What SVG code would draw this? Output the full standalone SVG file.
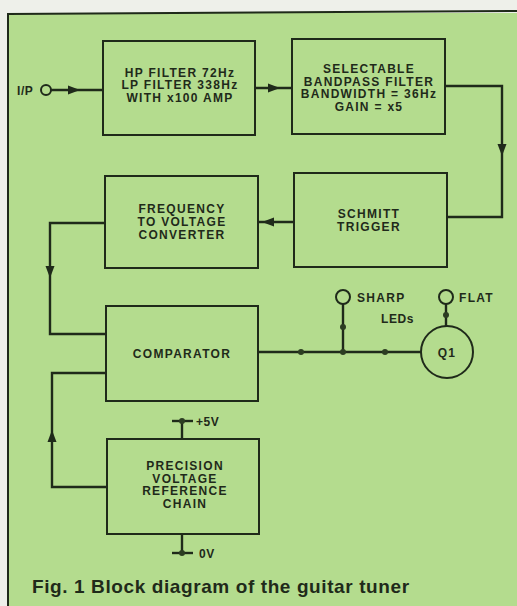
<svg xmlns="http://www.w3.org/2000/svg" xmlns:xlink="http://www.w3.org/1999/xlink" width="517" height="606" viewBox="0 0 517 606">
<style>
.bg{fill:#eef0ea}
.panel{fill:#b4dc8e}
.frame{fill:none;stroke:#1f2a1a;stroke-width:2}
.box{fill:none;stroke:#1f2a1a;stroke-width:2}
.wire{fill:none;stroke:#1f2a1a;stroke-width:2.4;stroke-linejoin:miter}
.term{fill:none;stroke:#1f2a1a;stroke-width:2}
.ah{fill:#1f2a1a}
.dot{fill:#2c3d22}
.t{font-family:"Liberation Sans",Arial,Helvetica,sans-serif;font-weight:bold;font-size:12px;letter-spacing:1.3px;fill:#1f2a1a}
.c{text-anchor:middle}
.cap{font-family:"Liberation Sans",Arial,Helvetica,sans-serif;font-weight:bold;font-size:19px;letter-spacing:0.6px;fill:#1f2a1a}
</style>
<defs>
<path id="ah" d="M0,0 L-12,-4.5 L-12,4.5 Z"/>
</defs>
<rect class="bg" x="0" y="0" width="517" height="606"/>
<rect class="panel" x="8" y="13" width="509" height="593"/>
<path class="frame" d="M8,606 L8,14 L517,11"/>

<g id="connectors">
  <line class="wire" x1="51" y1="90" x2="103" y2="90"/>
  <use class="ah" xlink:href="#ah" transform="translate(80,90)"/>
  <line class="wire" x1="255" y1="88" x2="292" y2="88"/>
  <use class="ah" xlink:href="#ah" transform="translate(280,88)"/>
  <polyline class="wire" points="445,86 502,86 502,217 447,217"/>
  <use class="ah" xlink:href="#ah" transform="translate(502,156) rotate(90)"/>
  <line class="wire" x1="294" y1="222" x2="258" y2="222"/>
  <use class="ah" xlink:href="#ah" transform="translate(262,222) rotate(180)"/>
  <polyline class="wire" points="105,223 50,223 50,334 106,334"/>
  <use class="ah" xlink:href="#ah" transform="translate(50,278) rotate(90)"/>
  <polyline class="wire" points="107,487 52,487 52,373 106,373"/>
  <use class="ah" xlink:href="#ah" transform="translate(52,430) rotate(-90)"/>
  <line class="wire" x1="258" y1="352" x2="421" y2="352"/>
  <line class="wire" x1="343" y1="352" x2="343" y2="304"/>
  <line class="wire" x1="446" y1="304" x2="446" y2="326"/>
  <circle class="dot" cx="301" cy="352" r="3"/>
  <circle class="dot" cx="343" cy="352" r="3"/>
  <circle class="dot" cx="385" cy="352" r="3"/>
  <circle class="dot" cx="343" cy="327" r="3"/>
  <circle class="dot" cx="446" cy="315" r="3"/>
  <line class="wire" x1="182" y1="439" x2="182" y2="421"/>
  <line class="wire" x1="172" y1="421" x2="193" y2="421"/>
  <circle class="dot" cx="182" cy="421" r="3"/>
  <line class="wire" x1="182" y1="534" x2="182" y2="553"/>
  <line class="wire" x1="172" y1="553" x2="193" y2="553"/>
  <circle class="dot" cx="182" cy="553" r="3"/>
</g>

<g id="input">
  <circle class="term" cx="46" cy="90" r="5"/>
  <text class="t" x="17" y="95" style="letter-spacing:0.6px">I/P</text>
</g>

<g id="hp-filter">
  <rect class="box" x="103" y="41" width="152" height="94"/>
  <text class="t c" x="180" y="76.5">HP FILTER 72Hz</text>
  <text class="t c" x="180" y="89">LP FILTER 338Hz</text>
  <text class="t c" x="180" y="101.5">WITH x100 AMP</text>
</g>

<g id="bandpass">
  <rect class="box" x="292" y="39" width="153" height="95"/>
  <text class="t c" x="369" y="73">SELECTABLE</text>
  <text class="t c" x="369" y="85.5">BANDPASS FILTER</text>
  <text class="t c" x="369" y="98">BANDWIDTH = 36Hz</text>
  <text class="t c" x="369" y="110.5">GAIN = x5</text>
</g>

<g id="f-to-v">
  <rect class="box" x="105" y="176" width="153" height="92"/>
  <text class="t c" x="182" y="213">FREQUENCY</text>
  <text class="t c" x="182" y="226">TO VOLTAGE</text>
  <text class="t c" x="182" y="239">CONVERTER</text>
</g>

<g id="schmitt">
  <rect class="box" x="294" y="173" width="153" height="94"/>
  <text class="t c" x="369" y="218">SCHMITT</text>
  <text class="t c" x="369" y="231">TRIGGER</text>
</g>

<g id="comparator">
  <rect class="box" x="106" y="306" width="152" height="95"/>
  <text class="t c" x="182" y="358">COMPARATOR</text>
</g>

<g id="reference">
  <rect class="box" x="107" y="439" width="152" height="95"/>
  <text class="t c" x="185" y="470">PRECISION</text>
  <text class="t c" x="185" y="482.5">VOLTAGE</text>
  <text class="t c" x="185" y="495">REFERENCE</text>
  <text class="t c" x="185" y="507.5">CHAIN</text>
</g>

<g id="plus5v">
  <text class="t" x="196" y="426" style="letter-spacing:0.5px">+5V</text>
</g>
<g id="zerov">
  <text class="t" x="199" y="558" style="letter-spacing:0.5px">0V</text>
</g>

<g id="sharp-led">
  <circle class="term" cx="343" cy="297" r="7"/>
  <text class="t" x="357" y="302">SHARP</text>
</g>
<g id="flat-led">
  <circle class="term" cx="446" cy="297" r="7"/>
  <text class="t" x="459" y="302">FLAT</text>
</g>
<g id="leds-label">
  <text class="t" x="381" y="323" style="letter-spacing:0.6px">LEDs</text>
</g>

<g id="q1">
  <circle class="term" cx="447" cy="352" r="26"/>
  <text class="t c" x="447" y="357">Q1</text>
</g>

<g id="caption">
  <text class="cap" x="32" y="593">Fig. 1 Block diagram of the guitar tuner</text>
</g>
</svg>
